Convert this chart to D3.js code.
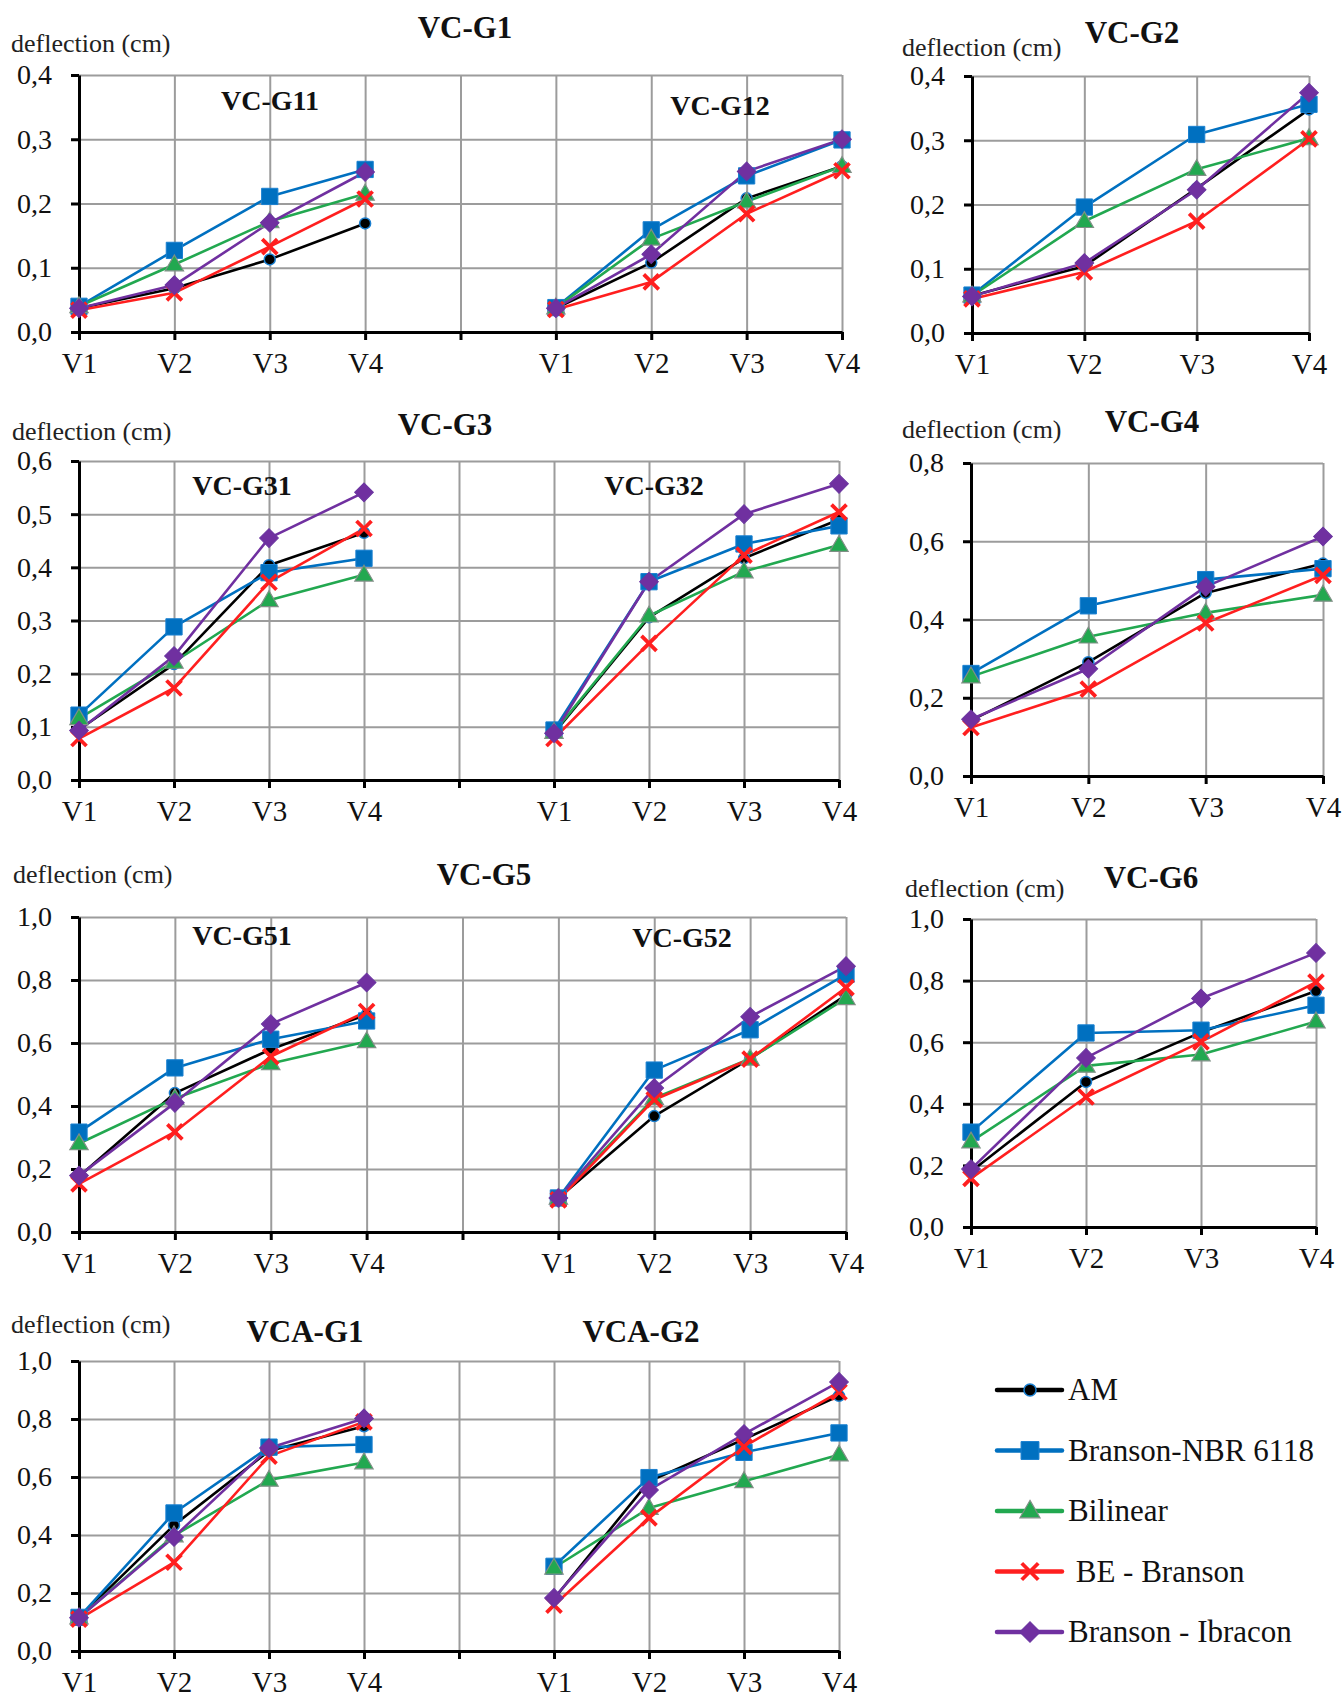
<!DOCTYPE html>
<html>
<head>
<meta charset="utf-8">
<script src="https://cdn.jsdelivr.net/npm/d3@7"></script>
<style>
    body { margin: 0; background: #fff; }
    svg { font-family: "Liberation Serif", "DejaVu Serif", serif; }
</style>
</head>
<body>
<svg id="drawing_region"></svg>
<script>
const categories = ["V1", "V2", "V3", "V4"];
const seriesNames = ["AM", "Branson-NBR 6118", "Bilinear", " BE - Branson", "Branson - Ibracon"];

// rows follow seriesNames, columns follow categories
const vcG11 = [
    [0.037, 0.068, 0.113, 0.169],
    [0.040, 0.127, 0.211, 0.253],
    [0.040, 0.105, 0.172, 0.215],
    [0.034, 0.061, 0.133, 0.207],
    [0.037, 0.073, 0.170, 0.249]
];
const vcG12 = [
    [0.037, 0.108, 0.208, 0.258],
    [0.038, 0.159, 0.243, 0.299],
    [0.038, 0.145, 0.203, 0.258],
    [0.035, 0.078, 0.184, 0.251],
    [0.037, 0.121, 0.250, 0.300]
];
const vcG2 = [
    [0.058, 0.104, 0.225, 0.348],
    [0.059, 0.196, 0.309, 0.356],
    [0.058, 0.174, 0.255, 0.303],
    [0.053, 0.095, 0.174, 0.302],
    [0.057, 0.109, 0.223, 0.374]
];
const vcG31 = [
    [0.095, 0.218, 0.404, 0.465],
    [0.122, 0.288, 0.390, 0.417],
    [0.116, 0.222, 0.338, 0.386],
    [0.078, 0.173, 0.372, 0.473],
    [0.093, 0.233, 0.455, 0.541]
];
const vcG32 = [
    [0.088, 0.306, 0.417, 0.490],
    [0.094, 0.373, 0.444, 0.478],
    [0.090, 0.309, 0.392, 0.442],
    [0.078, 0.257, 0.423, 0.504],
    [0.088, 0.373, 0.500, 0.557]
];
const vcG4 = [
    [0.142, 0.291, 0.468, 0.543],
    [0.262, 0.435, 0.502, 0.530],
    [0.254, 0.356, 0.417, 0.463],
    [0.124, 0.222, 0.391, 0.513],
    [0.145, 0.274, 0.484, 0.612]
];
const vcG51 = [
    [0.176, 0.441, 0.580, 0.690],
    [0.317, 0.521, 0.612, 0.670],
    [0.281, 0.424, 0.535, 0.605],
    [0.153, 0.318, 0.557, 0.700],
    [0.179, 0.410, 0.660, 0.792]
];
const vcG52 = [
    [0.108, 0.368, 0.550, 0.752],
    [0.108, 0.514, 0.642, 0.818],
    [0.108, 0.425, 0.550, 0.742],
    [0.102, 0.420, 0.549, 0.776],
    [0.108, 0.457, 0.683, 0.844]
];
const vcG6 = [
    [0.180, 0.471, 0.632, 0.766],
    [0.308, 0.630, 0.639, 0.720],
    [0.277, 0.523, 0.560, 0.667],
    [0.158, 0.422, 0.601, 0.795],
    [0.188, 0.549, 0.742, 0.890]
];
const vcaG1 = [
    [0.115, 0.434, 0.690, 0.775],
    [0.116, 0.476, 0.703, 0.712],
    [0.115, 0.398, 0.590, 0.650],
    [0.110, 0.306, 0.672, 0.790],
    [0.115, 0.393, 0.700, 0.802]
];
const vcaG2 = [
    [0.180, 0.585, 0.730, 0.880],
    [0.292, 0.598, 0.685, 0.752],
    [0.287, 0.493, 0.585, 0.677],
    [0.158, 0.459, 0.705, 0.893],
    [0.183, 0.555, 0.748, 0.928]
];

const ticks04 = [0, 0.1, 0.2, 0.3, 0.4];
const ticks06 = [0, 0.1, 0.2, 0.3, 0.4, 0.5, 0.6];
const ticks08 = [0, 0.2, 0.4, 0.6, 0.8];
const ticks10 = [0, 0.2, 0.4, 0.6, 0.8, 1.0];

const colors = ["#000000", "#0070c0", "#22a850", "#ff1f1f", "#7030a0"];

class DeflectionPanel {

    constructor( config, groups ) {
        this.config = {
            parent: config.parent,
            left: config.left,
            top: config.top,
            width: config.width,
            height: config.height,
            slots: config.slots || 4,
            yticks: config.yticks,
            title: config.title,
            subtitles: config.subtitles || [],
            ylabel: config.ylabel,
        };
        this.groups = groups;
        this.init();
    }

    init() {
        let self = this;

        self.chart = self.config.parent.append('g')
            .attr('transform', `translate(${self.config.left}, ${self.config.top})`);

        self.xscale = d3.scalePoint()
            .domain(d3.range(self.config.slots))
            .range([0, self.config.width]);

        self.yscale = d3.scaleLinear()
            .domain([0, d3.max(self.config.yticks)])
            .range([self.config.height, 0]);

        // wide panels carry two groups of V1..V4 with an empty slot between them
        self.slotLabel = i => {
            if (self.config.slots == 4) return categories[i];
            if (i < 4) return categories[i];
            if (i == 4) return '';
            return categories[i - 5];
        };
    }

    render() {
        let self = this;
        let w = self.config.width, h = self.config.height;

        // grid
        self.chart.append('g')
            .call(d3.axisLeft(self.yscale).tickValues(self.config.yticks).tickSize(-w).tickFormat(''))
            .call(g => g.select('.domain').remove())
            .selectAll('line').attr('stroke', '#9c9c9c').attr('stroke-width', 2);

        self.chart.append('g')
            .call(d3.axisBottom(self.xscale).tickSize(h).tickFormat('').tickSizeOuter(0))
            .call(g => g.select('.domain').remove())
            .selectAll('line')
            .attr('stroke', '#9c9c9c').attr('stroke-width', 2);

        // axes
        let yaxis = self.chart.append('g')
            .call(d3.axisLeft(self.yscale)
                .tickValues(self.config.yticks)
                .tickSize(8).tickSizeOuter(0).tickPadding(19)
                .tickFormat(d => d3.format('.1f')(d).replace('.', ',')));
        yaxis.selectAll('line, path').attr('stroke', '#000').attr('stroke-width', 3);
        yaxis.selectAll('text').attr('font-size', '28px').attr('fill', '#111')
            .attr('font-family', '"Liberation Serif", serif');

        let xaxis = self.chart.append('g')
            .attr('transform', `translate(0, ${h})`)
            .call(d3.axisBottom(self.xscale)
                .tickSize(8).tickSizeOuter(0).tickPadding(12)
                .tickFormat(self.slotLabel));
        xaxis.selectAll('line, path').attr('stroke', '#000').attr('stroke-width', 3);
        xaxis.selectAll('text').attr('font-size', '29px').attr('fill', '#111')
            .attr('font-family', '"Liberation Serif", serif');

        // lines then markers
        self.groups.forEach(grp => {
            let line = d3.line()
                .x((d, i) => self.xscale(grp.start + i))
                .y(d => self.yscale(d));

            self.chart.append('g')
                .selectAll('path')
                .data(grp.data)
                .join('path')
                .attr('d', d => line(d))
                .attr('fill', 'none')
                .attr('stroke', (d, i) => colors[i])
                .attr('stroke-width', 2.6)
                .attr('stroke-linejoin', 'round');

            grp.data.forEach((values, s) => {
                values.forEach((v, i) => {
                    drawMarker(self.chart, s, self.xscale(grp.start + i), self.yscale(v), 1);
                });
            });
        });

        // texts
        let p = self.config.parent;
        p.append('text')
            .attr('x', self.config.ylabel[0])
            .attr('y', self.config.ylabel[1])
            .attr('font-size', '26px')
            .attr('fill', '#222')
            .text('deflection (cm)');

        p.append('text')
            .attr('x', self.config.title[1])
            .attr('y', self.config.title[2])
            .attr('text-anchor', 'middle')
            .attr('font-size', '31px')
            .attr('font-weight', 'bold')
            .attr('fill', '#111')
            .text(self.config.title[0]);

        self.config.subtitles.forEach(s => {
            p.append('text')
                .attr('x', s[1])
                .attr('y', s[2])
                .attr('text-anchor', 'middle')
                .attr('font-size', s[3] || '28px')
                .attr('font-weight', 'bold')
                .attr('fill', '#111')
                .text(s[0]);
        });
    }
}

function drawMarker( g, s, cx, cy, k ) {
    let m = g.append('g').attr('transform', `translate(${cx}, ${cy})`);
    if (s == 0) {
        m.append('circle').attr('r', 5.5 * k)
            .attr('fill', '#000').attr('stroke', '#1a7fd0').attr('stroke-width', 1.5);
    } else if (s == 1) {
        m.append('path').attr('d', d3.symbol(d3.symbolSquare, 265 * k * k)())
            .attr('fill', '#0070c0').attr('stroke', '#1a80d0').attr('stroke-width', 1);
    } else if (s == 2) {
        m.append('path').attr('d', d3.symbol(d3.symbolTriangle, 145 * k * k)())
            .attr('transform', 'translate(0, 1)')
            .attr('fill', '#22a850').attr('stroke', '#7f8f85').attr('stroke-width', 1.2);
    } else if (s == 3) {
        let r = 7.5 * k;
        m.append('path').attr('d', `M${-r},${-r}L${r},${r}M${-r},${r}L${r},${-r}`)
            .attr('stroke', '#ff1f1f').attr('stroke-width', 3.8).attr('fill', 'none');
    } else {
        m.append('path').attr('d', d3.symbol(d3.symbolSquare, 175 * k * k)())
            .attr('transform', 'rotate(45)')
            .attr('fill', '#7030a0').attr('stroke', '#6a35a0').attr('stroke-width', 1);
    }
}

let svg = d3.select('#drawing_region')
    .attr('width', 1344)
    .attr('height', 1695);

svg.append('rect').attr('width', 1344).attr('height', 1695).attr('fill', '#fff');

let panels = [
    new DeflectionPanel({ parent: svg, left: 79, top: 75, width: 763, height: 257, slots: 9,
        yticks: ticks04, title: ['VC-G1', 465, 38], ylabel: [11, 52],
        subtitles: [['VC-G11', 270, 110], ['VC-G12', 720, 115]] },
        [{ start: 0, data: vcG11 }, { start: 5, data: vcG12 }]),
    new DeflectionPanel({ parent: svg, left: 972, top: 76, width: 337, height: 257,
        yticks: ticks04, title: ['VC-G2', 1132, 43], ylabel: [902, 56] },
        [{ start: 0, data: vcG2 }]),
    new DeflectionPanel({ parent: svg, left: 79, top: 461, width: 760, height: 319, slots: 9,
        yticks: ticks06, title: ['VC-G3', 445, 435], ylabel: [12, 440],
        subtitles: [['VC-G31', 242, 495], ['VC-G32', 654, 495]] },
        [{ start: 0, data: vcG31 }, { start: 5, data: vcG32 }]),
    new DeflectionPanel({ parent: svg, left: 971, top: 463, width: 352, height: 313,
        yticks: ticks08, title: ['VC-G4', 1152, 432], ylabel: [902, 438] },
        [{ start: 0, data: vcG4 }]),
    new DeflectionPanel({ parent: svg, left: 79, top: 917, width: 767, height: 315, slots: 9,
        yticks: ticks10, title: ['VC-G5', 484, 885], ylabel: [13, 883],
        subtitles: [['VC-G51', 242, 945], ['VC-G52', 682, 947]] },
        [{ start: 0, data: vcG51 }, { start: 5, data: vcG52 }]),
    new DeflectionPanel({ parent: svg, left: 971, top: 919, width: 345, height: 308,
        yticks: ticks10, title: ['VC-G6', 1151, 888], ylabel: [905, 897] },
        [{ start: 0, data: vcG6 }]),
    new DeflectionPanel({ parent: svg, left: 79, top: 1361, width: 760, height: 290, slots: 9,
        yticks: ticks10, title: ['VCA-G1', 305, 1342], ylabel: [11, 1333],
        subtitles: [['VCA-G2', 641, 1342, '31px']] },
        [{ start: 0, data: vcaG1 }, { start: 5, data: vcaG2 }])
];
panels.forEach(p => p.render());

// legend
let legend = svg.append('g');
seriesNames.forEach((name, i) => {
    let y = 1390 + i * 60.5;
    legend.append('line')
        .attr('x1', 997).attr('x2', 1062).attr('y1', y).attr('y2', y)
        .attr('stroke', colors[i]).attr('stroke-width', 4.5).attr('stroke-linecap', 'round');
    drawMarker(legend, i, 1030, y, 1.1);
    legend.append('text')
        .attr('x', 1068).attr('y', y + 10)
        .attr('font-size', '31px')
        .attr('fill', '#111')
        .style('white-space', 'pre')
        .text(name);
});
</script>
</body>
</html>
